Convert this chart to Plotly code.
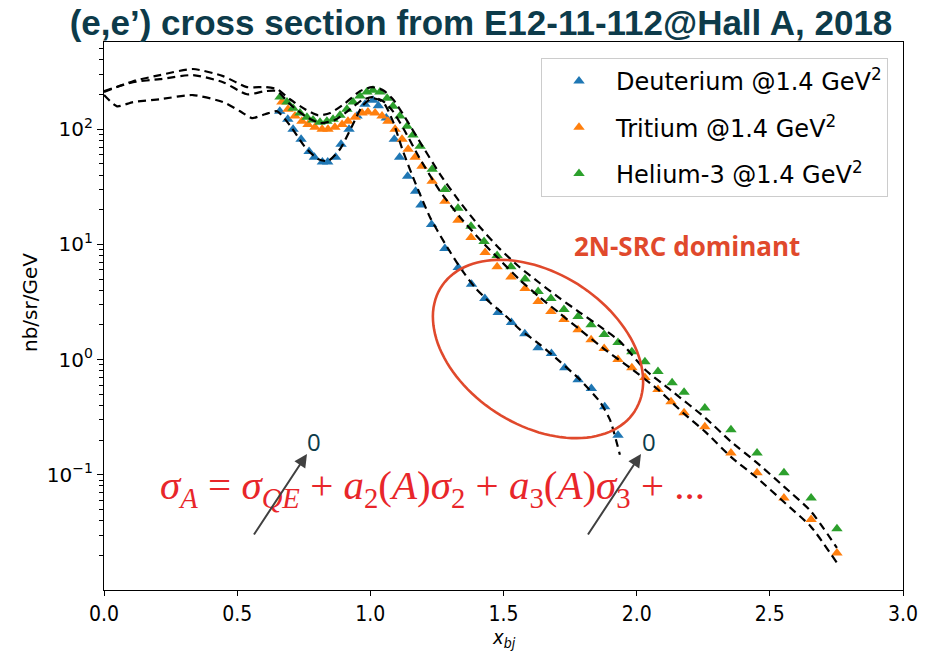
import numpy as np
import plotly.graph_objects as go

# ---------------- data ----------------
d_x = [0.66, 0.69, 0.71, 0.74, 0.77, 0.79, 0.82, 0.84, 0.87, 0.89, 0.92, 0.95, 0.98, 1.01, 1.03, 1.06,
       1.09, 1.11, 1.14, 1.17, 1.19, 1.23, 1.28, 1.33, 1.38, 1.43, 1.48, 1.53, 1.58, 1.63, 1.68, 1.73,
       1.78, 1.83, 1.88, 1.93]
d_y = [143, 122, 100, 82, 64, 57, 52, 52, 57, 74, 100, 130, 165, 178, 160, 125,
       82, 57, 39, 29, 22, 14.9, 9.2, 6.3, 4.5, 3.4, 2.56, 2.10, 1.68, 1.27, 1.13, 0.85,
       0.67, 0.56, 0.39, 0.22]

t_x = [0.668, 0.691, 0.717, 0.743, 0.766, 0.792, 0.819, 0.841, 0.867, 0.894, 0.916, 0.943, 0.969, 0.991,
       1.018, 1.044, 1.066, 1.093, 1.119, 1.142, 1.168, 1.194, 1.232, 1.280, 1.329, 1.378, 1.431, 1.476,
       1.528, 1.581, 1.630, 1.678, 1.727, 1.780, 1.829, 1.878, 1.930, 1.982, 2.031, 2.080, 2.129, 2.178,
       2.256, 2.354, 2.452, 2.553, 2.655, 2.752]
t_y = [172, 149, 130, 117, 110, 104, 100, 100, 104, 110, 117, 127, 138, 141,
       138, 130, 117, 100, 82, 67, 57, 47.7, 35.3, 23.7, 16.2, 11.5, 8.5, 6.4,
       5.2, 4.14, 3.19, 2.61, 2.23, 1.82, 1.49, 1.25, 1.0, 0.85, 0.70, 0.55, 0.43, 0.346,
       0.261, 0.155, 0.104, 0.063, 0.041, 0.021]

h_x = [0.661, 0.687, 0.710, 0.736, 0.762, 0.785, 0.811, 0.837, 0.860, 0.886, 0.912, 0.935, 0.961, 0.987,
       1.010, 1.036, 1.063, 1.085, 1.111, 1.138, 1.160, 1.187, 1.232, 1.280, 1.329, 1.378, 1.427, 1.476,
       1.528, 1.581, 1.630, 1.678, 1.727, 1.780, 1.829, 1.878, 1.930, 1.982, 2.031, 2.080, 2.133, 2.178,
       2.256, 2.354, 2.452, 2.553, 2.655, 2.752]
h_y = [190, 172, 152, 138, 127, 120, 115, 117, 122, 132, 149, 172, 194, 210,
       218, 210, 186, 158, 130, 106, 89, 71, 44.9, 30, 20.6, 14.4, 10.6, 8.0,
       6.4, 5.0, 3.9, 3.39, 2.72, 2.37, 2.01, 1.65, 1.41, 1.17, 0.96, 0.79, 0.63, 0.52,
       0.38, 0.246, 0.155, 0.104, 0.063, 0.034]

# model curves (dashed)
he_m_x = [0.0, 0.109, 0.210, 0.334, 0.447, 0.537, 0.605, 0.650, 0.698, 0.755, 0.804, 0.849, 0.905, 0.961,
          1.006, 1.048, 1.085, 1.130, 1.187, 1.262, 1.337, 1.412, 1.487, 1.562, 1.637, 1.712, 1.787, 1.862,
          1.937, 2.031, 2.129, 2.257, 2.354, 2.452, 2.553, 2.655, 2.752]
he_m_y = [210, 261, 295, 333, 289, 232, 232, 223, 182, 149, 132, 138, 168, 214,
          232, 218, 182, 127, 77, 40.6, 23.2, 14.1, 9.1, 6.3, 4.6, 3.4, 2.56, 1.94,
          1.44, 0.82, 0.54, 0.313, 0.194, 0.127, 0.079, 0.048, 0.0232]

t_m_x = [0.0, 0.109, 0.210, 0.334, 0.447, 0.537, 0.605, 0.650, 0.698, 0.755, 0.811, 0.867, 0.924, 0.969,
         1.006, 1.048, 1.085, 1.130, 1.187, 1.262, 1.337, 1.412, 1.487, 1.562, 1.637, 1.712, 1.787, 1.881,
         1.975, 2.080, 2.178, 2.257, 2.354, 2.452, 2.553, 2.655, 2.752]
t_m_y = [214, 256, 272, 295, 256, 201, 214, 214, 165, 130, 113, 120, 149, 179,
         190, 175, 143, 96, 55, 28.9, 17.2, 11.0, 7.3, 4.9, 3.46, 2.51, 1.82, 1.22,
         0.85, 0.55, 0.339, 0.237, 0.143, 0.094, 0.058, 0.0353, 0.0172]

d_m_x = [0.0, 0.049, 0.109, 0.210, 0.334, 0.447, 0.511, 0.556, 0.605, 0.650, 0.698, 0.755, 0.804, 0.841,
         0.886, 0.931, 0.969, 1.006, 1.048, 1.085, 1.123, 1.168, 1.224, 1.280, 1.337, 1.393, 1.449, 1.506,
         1.562, 1.637, 1.712, 1.787, 1.862, 1.900, 1.937]
d_m_y = [198, 158, 172, 182, 198, 172, 143, 125, 135, 143, 108, 70, 55, 53,
         67, 106, 158, 186, 172, 117, 64, 34.6, 17.2, 10.2, 6.3, 4.23, 3.13, 2.42,
         1.82, 1.35, 0.96, 0.67, 0.43, 0.30, 0.149]

series_names = ["Deuterium @1.4 GeV<sup>2</sup>", "Tritium @1.4 GeV<sup>2</sup>", "Helium-3 @1.4 GeV<sup>2</sup>"]
series_colors = ["#1f77b4", "#ff7f0e", "#2ca02c"]

y_tickvals = [0.1, 1, 10, 100]
y_ticktext = ["10<sup>−1</sup>", "10<sup>0</sup>", "10<sup>1</sup>", "10<sup>2</sup>"]
x_tickvals = [0.0, 0.5, 1.0, 1.5, 2.0, 2.5, 3.0]
x_ticktext = ["0.0", "0.5", "1.0", "1.5", "2.0", "2.5", "3.0"]

# ---------------- figure ----------------
PL, PR, PT, PB = 104, 903, 42, 590   # plot-area edges in page pixels
W, H = 932, 654
L, R, T, B = PL, W - PR, PT, H - PB

fig = go.Figure()

for i, (xs, ys) in enumerate([(d_x, d_y), (t_x, t_y), (h_x, h_y)]):
    fig.add_trace(go.Scatter(
        x=xs, y=ys, mode="markers", name=series_names[i], legendgroup=f"g{i}",
        marker=dict(symbol="triangle-up", size=10, color=series_colors[i], line=dict(width=0)),
    ))

for xs, ys in [(he_m_x, he_m_y), (t_m_x, t_m_y), (d_m_x, d_m_y)]:
    fig.add_trace(go.Scatter(
        x=xs, y=ys, mode="lines", showlegend=False, hoverinfo="skip",
        line=dict(color="black", width=2.2, dash="8px,5px", shape="spline", smoothing=0.6),
    ))

minor_vals = [m * 10.0 ** e for e in range(-2, 3) for m in range(2, 10)]

fig.update_xaxes(
    range=[0, 3], tickvals=x_tickvals, ticktext=x_ticktext,
    showline=True, linecolor="black", linewidth=1.2, mirror=True,
    ticks="outside", ticklen=5, tickwidth=1.2, tickcolor="black",
    tickfont=dict(family="DejaVu Sans Condensed", size=21, color="black"),
    showgrid=False, zeroline=False,
)
fig.update_yaxes(
    type="log", range=[-2.0, 2.757], tickvals=y_tickvals, ticktext=y_ticktext,
    showline=True, linecolor="black", linewidth=1.2, mirror=True,
    ticks="outside", ticklen=6, tickwidth=1.2, tickcolor="black",
    tickfont=dict(family="DejaVu Sans", size=20, color="black"),
    minor=dict(tickvals=minor_vals, ticks="outside", ticklen=3.5, tickwidth=1, tickcolor="black", showgrid=False),
    showgrid=False, zeroline=False,
)

def px2paper(px, py):
    return (px - PL) / (PR - PL), (PB - py) / (PB - PT)

# ellipse (annotation)
t = np.linspace(0, 2 * np.pi, 120)
cx, cy, a, b, th = 538, 349, 115, 76, np.deg2rad(32.7)
ex = cx + a * np.cos(th) * np.cos(t) - b * np.sin(th) * np.sin(t)
ey = cy + a * np.sin(th) * np.cos(t) + b * np.cos(th) * np.sin(t)
pts = [px2paper(u, v) for u, v in zip(ex, ey)]
path = "M " + " L ".join(f"{u:.4f},{v:.4f}" for u, v in pts) + " Z"
fig.add_shape(type="path", path=path, xref="paper", yref="paper",
              line=dict(color="#e0492c", width=2.6))

annos = []
def text_at(px, py, text, font, **kw):
    x0, y0 = px2paper(px, py)
    annos.append(dict(x=x0, y=y0, xref="paper", yref="paper", text=text, showarrow=False,
                      xanchor="center", yanchor="middle", font=font, **kw))

text_at(687, 246, "<b>2N-SRC dominant</b>", dict(family="Open Sans", size=26, color="#e0492c"))
formula = ("<i>σ</i><sub><i>A</i></sub> = <i>σ</i><sub><i>QE</i></sub> + <i>a</i><sub>2</sub>(<i>A</i>)<i>σ</i><sub>2</sub>"
           " + <i>a</i><sub>3</sub>(<i>A</i>)<i>σ</i><sub>3</sub> + ...")
text_at(432, 488, formula, dict(family="Liberation Serif", size=41, color="#e8262a"))
text_at(314, 441, "0", dict(family="Open Sans", size=24, color="#0d3b4a"))
text_at(649, 441, "0", dict(family="Open Sans", size=24, color="#0d3b4a"))
text_at(30, 303, "nb/sr/GeV", dict(family="DejaVu Sans", size=20, color="black"), textangle=-90)
text_at(504, 638, "<i>x</i><sub><i>bj</i></sub>", dict(family="DejaVu Sans Condensed", size=20, color="black"))

for (hx, hy, tx, ty) in [(307, 454, 253, 536), (641, 454, 587, 536)]:
    x0, y0 = px2paper(hx, hy)
    annos.append(dict(x=x0, y=y0, xref="paper", yref="paper", text="", showarrow=True,
                      ax=tx - hx, ay=ty - hy, axref="pixel", ayref="pixel",
                      arrowhead=2, arrowsize=1.3, arrowwidth=2, arrowcolor="#404040"))

lx, ly = px2paper(888, 58)
fig.update_layout(
    width=W, height=H,
    margin=dict(l=L, r=R, t=T, b=B),
    paper_bgcolor="white", plot_bgcolor="white",
    title=dict(text="<b>(e,e’) cross section from E12-11-112@Hall A, 2018</b>",
               x=481 / W, xanchor="center", y=1 - 23 / H, yanchor="middle", yref="container",
               font=dict(family="Liberation Sans", size=35, color="#0d3b4a")),
    legend=dict(x=lx, y=ly, xanchor="right", yanchor="top",
                bgcolor="white", bordercolor="#cccccc", borderwidth=1,
                font=dict(family="DejaVu Sans", size=24, color="black"),
                tracegroupgap=12, itemwidth=64),
    annotations=annos,
    showlegend=True,
)

fig.write_html("out.html", config={"displayModeBar": False},
               post_script="document.body.style.margin='0px';document.body.style.padding='0px';")
